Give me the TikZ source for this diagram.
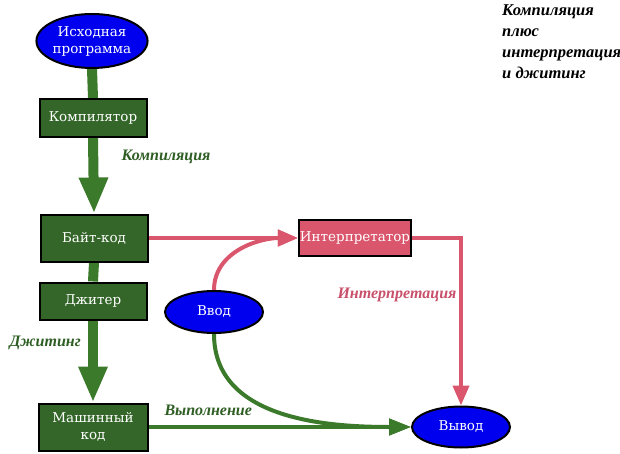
\documentclass[tikz,border=0pt]{standalone}
\usepackage{fontspec}
\setmainfont{DejaVu Serif}
\newfontfamily\jserif{DejaVu Serif}
\newfontfamily\jtimes{Liberation Serif}
\usepackage{tikz}
\usetikzlibrary{positioning,calc,arrows.meta,shapes.geometric,backgrounds}
\definecolor{jgreen}{HTML}{336628}
\definecolor{jgreenl}{HTML}{3A7A2A}
\definecolor{jgreent}{HTML}{2E5E24}
\definecolor{jpink}{HTML}{D9566C}
\definecolor{jpinkt}{HTML}{C9506A}
\definecolor{jblue}{HTML}{0000EE}

\begin{document}
\begin{tikzpicture}[x=1pt, y=-1pt, font=\jserif\fontsize{13.5}{17}\selectfont,
  blk/.style={draw=black, line width=2pt, fill=jgreen, text=white,
              minimum width=107pt, minimum height=38pt, inner sep=1pt, align=center},
  oval/.style={ellipse, draw=black, line width=2pt, fill=jblue, text=white,
               inner sep=0pt, align=center},
  shaft/.style={line width=10pt, draw=jgreenl},
  bigarr/.style={-{Triangle[length=36pt,width=27pt]}, line width=10pt, draw=jgreenl},
  parr/.style={-{Triangle[length=20pt,width=16pt]}, line width=4pt, draw=jpink},
  garr/.style={-{Triangle[length=22pt,width=16pt]}, line width=4pt, draw=jgreenl},
  lbl/.style={font=\jtimes\fontsize{16}{18}\selectfont\bfseries\itshape}]
  \useasboundingbox (0,0) rectangle (620,454);
  % --- left column
  \node[oval, minimum width=104pt, minimum height=54pt] (src) at (92,41)
       {Исходная\\программа};
  \node[blk] (comp) at (93,118) {Компилятор};
  \node[blk, minimum height=47pt] (bc) at (94,238) {Байт-код};
  \node[blk, minimum height=37pt] (jit) at (93,301) {Джитер};
  \node[blk, minimum width=109pt, minimum height=47pt] (mc) at (93,427)
       {Машинный\\код};
  % --- right part
  \node[blk, fill=jpink, minimum width=106pt, minimum height=36pt] (interp)
       at (355,238) {Интерпретатор};
  \node[oval, minimum width=98pt, minimum height=42pt] (in) at (214,312) {Ввод};
  \node[oval, minimum width=98pt, minimum height=41pt] (out) at (461,427) {Вывод};
  % --- labels
  \node[lbl, text=jgreent, anchor=west] (lcomp) at (118,157) {Компиляция};
  \node[lbl, text=jgreent, anchor=west] (ljit)  at (6,343)   {Джитинг};
  \node[lbl, text=jgreent, anchor=west] (lexec) at (161,410) {Выполнение};
  \node[lbl, text=jpinkt, anchor=west]  (lint)  at (334,295) {Интерпретация};
  \node[lbl, anchor=north west, align=left, inner sep=0pt,
        font=\jtimes\fontsize{16.5}{21}\selectfont\bfseries\itshape] (title) at (502,4)
       {Компиляция\\плюс\\интерпретация\\и джитинг};
  % --- connectors, behind the nodes
  \begin{scope}[on background layer]
  \draw[shaft]  (src.south) -- (comp.north);
  \draw[bigarr] (comp.south) -- (bc.north);
  \draw[shaft]  (bc.south) -- (jit.north);
  \draw[bigarr] (jit.south) -- (mc.north);
  \draw[parr] (bc.east) -- (interp.west);
  \draw[parr] (in.north) to[out=90, in=180] (interp.west);
  \draw[parr] (interp.east) -| (out.north);
  \draw[garr] (mc.east) -- (out.west);
  \draw[garr] (in.south) to[out=-90, in=180] (out.west);
  \end{scope}
\end{tikzpicture}
\end{document}
